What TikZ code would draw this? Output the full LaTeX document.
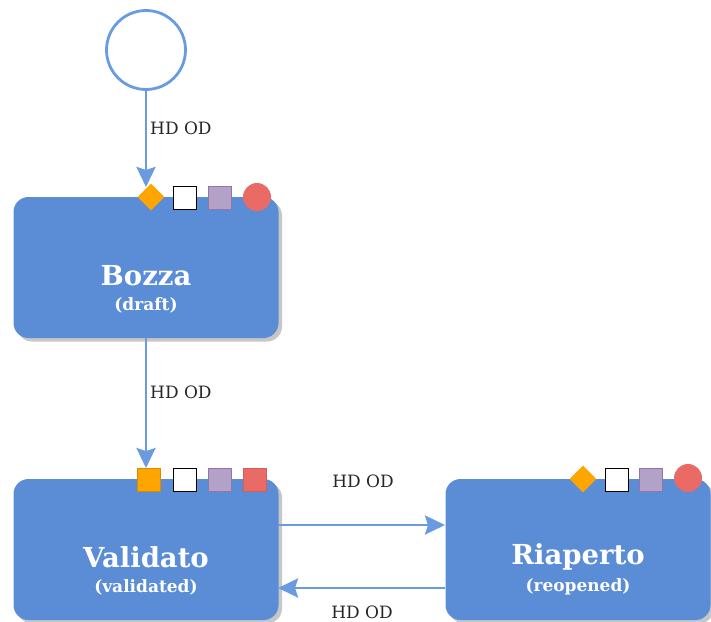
\documentclass[tikz,border=0pt]{standalone}
\usepackage{fontspec}
\setmainfont{DejaVu Serif}
\usetikzlibrary{arrows.meta,shapes.geometric}
\definecolor{boxblue}{HTML}{5B8DD6}
\definecolor{lineblue}{HTML}{6A9BE0}
\definecolor{orng}{HTML}{FFA500}
\definecolor{purp}{HTML}{B3A2C7}
\definecolor{purpd}{HTML}{9673A6}
\definecolor{redf}{HTML}{EA6B66}
\definecolor{redd}{HTML}{D0605C}
\tikzset{
  state/.style={draw=none, fill=boxblue, rounded corners=15pt, minimum width=265pt, minimum height=141pt, inner sep=0pt,
    text=white, align=center},
  shadowbox/.style={fill=black!22, rounded corners=15pt, minimum width=265pt, minimum height=141pt, draw=none},
  conn/.style={draw=lineblue, line width=2.8pt, -{Stealth[length=20pt,width=19pt,inset=3pt]}},
  lbl/.style={font=\fontsize{17}{19}\selectfont, text=black!85, inner sep=0pt},
  ticon/.style={draw=black, fill=white, line width=1.4pt, minimum size=23pt, inner sep=0pt},
  picon/.style={draw=purpd, fill=purp, line width=1pt, minimum size=23pt, inner sep=0pt},
  dicon/.style={diamond, fill=orng, minimum width=27pt, minimum height=27pt, inner sep=0pt},
  oicon/.style={draw=orng!85!black, fill=orng, line width=0.6pt, minimum size=23pt, inner sep=0pt},
  rcirc/.style={circle, fill=redf, minimum size=28pt, inner sep=0pt},
  rsq/.style={draw=redd, fill=redf, line width=0.8pt, minimum size=23pt, inner sep=0pt},
  title/.style={font=\bfseries\fontsize{27.5}{31}\selectfont},
  sub/.style={font=\bfseries\fontsize{17}{19}\selectfont}
}
\begin{document}
\begin{tikzpicture}[x=1pt,y=-1pt]
\useasboundingbox (0,0) rectangle (711,621);
% start
\node[circle, draw=lineblue, line width=2.8pt, fill=white, minimum size=79pt, inner sep=0pt] (start) at (146,50) {};
% shadows
\node[shadowbox] at (149.5,271) {};
\node[shadowbox] at (149.5,553) {};
\node[shadowbox] at (581.5,553) {};
% states
\node[state] (bozza) at (146,267.5) {};
\node[state] (valid) at (146,549.5) {};
\node[state] (riap) at (578,549.5) {};
\node[title, text=white] (bozzaT) at (146,276) {Bozza};
\node[sub, text=white] (bozzaS) at (146,305) {(draft)};
\node[title, text=white] (validT) at (146,557) {Validato};
\node[sub, text=white] (validS) at (146,587) {(validated)};
\node[title, text=white] (riapT) at (578,557) {Riaperto};
\node[sub, text=white] (riapS) at (578,587) {(reopened)};
% connectors
\coordinate (bozzaIn) at (146,187);
\coordinate (validIn) at (146,468);
\draw[conn] (start.south) -- (bozzaIn);
\node[lbl, anchor=west] (l1) at (150,128) {HD OD};
\draw[conn] (bozza.south) -- (validIn);
\node[lbl, anchor=west] (l2) at (150,392) {HD OD};
\coordinate (vr1) at (278,525);
\coordinate (rl1) at (445,525);
\coordinate (rl2) at (445,588);
\coordinate (vr2) at (278,588);
\draw[conn] (vr1) -- (rl1);
\draw[conn] (rl2) -- (vr2);
\node[lbl] (l3) at (363,481) {HD OD};
\node[lbl] (l4) at (362,612) {HD OD};
% icons bozza
\node[dicon] (b1) at (151,197) {};
\node[ticon] (b2) at (185,198) {};
\node[picon] (b3) at (220,198) {};
\node[rcirc] (b4) at (257,197) {};
% icons validato
\node[oicon] (v1) at (149,480) {};
\node[ticon] (v2) at (185,480) {};
\node[picon] (v3) at (220,480) {};
\node[rsq] (v4) at (255,480) {};
% icons riaperto
\node[dicon] (r1) at (583,479) {};
\node[ticon] (r2) at (617,480) {};
\node[picon] (r3) at (651,480) {};
\node[rcirc] (r4) at (688,478) {};
\end{tikzpicture}
\end{document}
